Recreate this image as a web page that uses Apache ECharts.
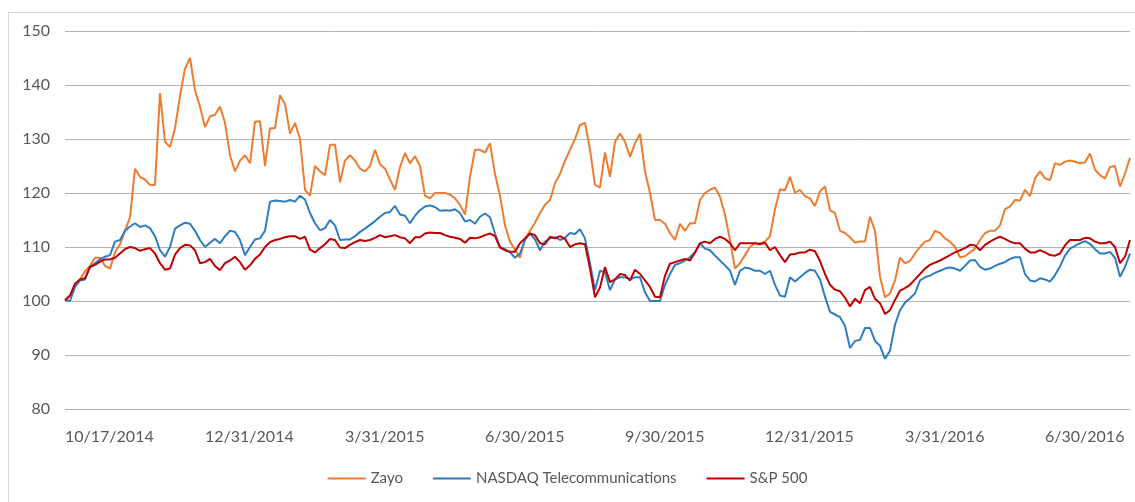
<!DOCTYPE html>
<html>
<head>
<meta charset="utf-8">
<script src="https://cdn.jsdelivr.net/npm/echarts@6/dist/echarts.min.js"></script>
<style>
html, body { margin: 0; padding: 0; background: #fff; }
#frame { position: absolute; left: 8px; top: 12px; width: 1140px; height: 500px; border: 1px solid #d9d9d9; box-sizing: border-box; }
#chart { position: absolute; left: 0; top: 0; width: 1135px; height: 502px; }
</style>
</head>
<body>
<div id="frame"></div>
<div id="chart"></div>
<script>
var xTicks = ['10/17/2014', '12/31/2014', '3/31/2015', '6/30/2015', '9/30/2015', '12/31/2015', '3/31/2016', '6/30/2016'];
var tickStep = 28;

var zayo = [
	100, 101, 103, 104, 105.5, 106.5, 108, 108, 106.5, 106,
	109, 110.5, 113, 115.5, 124.5, 123, 122.5, 121.5, 121.5, 138.5,
	129.5, 128.5, 132, 138, 143, 145, 139, 136, 132.2, 134.2,
	134.5, 136, 133, 127, 124, 126, 127, 125.5, 133.2, 133.3,
	125, 132, 132, 138.1, 136.5, 131, 133, 130, 120.6, 119.5,
	125, 124, 123.3, 128.9, 129, 122, 126, 127, 126, 124.5,
	124, 125, 128, 125.3, 124.5, 122.5, 120.6, 124.8, 127.4, 125.5,
	126.8, 125, 119.5, 119, 120, 120, 120, 119.7, 119, 117.8,
	116, 123, 128, 128, 127.5, 129.2, 123.5, 119.5, 114, 111,
	109.5, 108, 111.5, 113, 114.5, 116.3, 117.8, 118.7, 121.8, 123.5,
	126, 128, 130, 132.6, 133, 128, 121.5, 121, 127.5, 123,
	129.5, 131, 129.5, 126.7, 129.2, 131, 124, 120, 115, 115,
	114.3, 112.6, 111.3, 114.3, 113, 114.4, 114.4, 118.7, 120, 120.6,
	121, 119.3, 116, 111.3, 106, 107, 108.5, 110, 110.7, 110.7,
	111, 112, 117, 120.7, 120.5, 123, 120, 120.6, 119.4, 119,
	117.6, 120.3, 121.2, 116.8, 116.3, 113, 112.6, 111.8, 110.8, 111,
	111, 115.6, 113, 104.5, 100.7, 101.4, 103.8, 108, 107, 107.4,
	108.8, 110, 111, 111.3, 113, 112.6, 111.6, 111, 110, 108.1,
	108.3, 109, 109.7, 111.3, 112.6, 113, 113, 114, 117, 117.5,
	118.7, 118.6, 120.6, 119.4, 122.7, 124, 122.7, 122.4, 125.5, 125.2,
	125.8, 126, 125.8, 125.5, 125.7, 127.3, 124.3, 123.3, 122.7, 124.8,
	125, 121.2, 123.6, 126.5
];

var nasdaq = [
	100.2, 100, 102.6, 103.8, 104, 106.3, 107, 107.7, 108.2, 108.5,
	111, 111.3, 113, 113.8, 114.4, 113.7, 114, 113.5, 112, 109.4,
	108.2, 110, 113.4, 114, 114.5, 114.3, 113, 111.3, 110, 110.8,
	111.5, 110.7, 112, 113, 112.8, 111.3, 108.5, 110, 111.4, 111.6,
	113, 118.4, 118.6, 118.5, 118.4, 118.7, 118.4, 119.5, 118.8, 116.3,
	114.4, 113.1, 113.5, 115, 114, 111.3, 111.4, 111.4, 112, 112.8,
	113.4, 114.1, 114.8, 115.6, 116.3, 116.5, 117.6, 116, 115.8, 114.4,
	115.8, 116.8, 117.5, 117.7, 117.4, 116.7, 116.8, 116.7, 117, 116.3,
	114.7, 115, 114.3, 115.6, 116.2, 115.5, 112.5, 110, 109.6, 109,
	108, 108.8, 111.3, 112.5, 111.4, 109.4, 111, 111.6, 111.8, 111.3,
	111.7, 112.6, 112.4, 113.3, 111.6, 107, 102, 105.6, 105.3, 102,
	104, 104.4, 104.4, 104, 104.4, 104.4, 101.6, 100, 100, 100,
	103, 105, 106.7, 107, 107.5, 108.1, 109, 110.7, 109.7, 109.4,
	108.4, 107.5, 106.6, 105.6, 103, 105.6, 106.2, 106, 105.6, 105.6,
	105, 105.6, 103, 101, 100.8, 104.4, 103.6, 104.4, 105.2, 105.8,
	105.6, 104, 100.8, 98, 97.5, 97, 95.4, 91.3, 92.6, 92.8,
	95, 95, 92.6, 91.7, 89.3, 90.8, 95.6, 98.3, 99.7, 100.5,
	101.4, 103.8, 104.4, 104.7, 105.2, 105.6, 106, 106.2, 106, 105.6,
	106.5, 107.5, 107.6, 106.3, 105.8, 106, 106.5, 106.9, 107.2, 107.8,
	108.1, 108.1, 105, 103.8, 103.6, 104.2, 104, 103.6, 104.8, 106.4,
	108.4, 109.7, 110.2, 110.7, 111.1, 110.6, 109.6, 108.8, 108.8, 109.1,
	108, 104.5, 106.3, 108.8
];

var sp500 = [
	100.2, 101, 103.2, 104, 104.2, 106.3, 106.7, 107.3, 107.7, 107.7,
	108, 108.8, 109.6, 110, 109.8, 109.3, 109.6, 109.8, 108.8, 107,
	105.8, 106, 108.6, 109.8, 110.4, 110.3, 109.4, 107, 107.2, 107.8,
	106.5, 105.7, 107, 107.5, 108.2, 107.2, 105.8, 106.6, 107.8, 108.6,
	110, 110.9, 111.3, 111.5, 111.8, 112, 112, 111.5, 111.9, 109.5,
	109, 109.8, 110.5, 111.5, 111.3, 109.9, 109.8, 110.4, 110.9, 111.3,
	111.1, 111.3, 111.7, 112.2, 111.8, 112, 112.2, 111.8, 111.6, 110.7,
	111.8, 111.8, 112.5, 112.7, 112.6, 112.6, 112.2, 111.9, 111.7, 111.5,
	110.8, 111.7, 111.6, 111.8, 112.2, 112.5, 112, 109.9, 109.4, 109.1,
	109.1, 110.7, 111.6, 112.5, 112.2, 110.7, 110.5, 111.9, 111.6, 112,
	111.5, 110, 110.5, 110.7, 110.5, 106, 100.7, 102.5, 106.3, 103.5,
	104, 105, 104.8, 103.8, 105.8, 105, 103.8, 102.6, 100.8, 100.7,
	104.7, 106.9, 107.2, 107.5, 107.8, 107.5, 109, 110.7, 111, 110.7,
	111.5, 111.9, 111.5, 110.7, 109.4, 110.7, 110.7, 110.7, 110.7, 110.5,
	110.8, 109.4, 110, 108.5, 107.2, 108.6, 108.7, 109, 109, 109.5,
	109.2, 107.4, 105, 103, 102.1, 101.8, 100.6, 99, 100.4, 99.6,
	102, 102.6, 100.4, 99.6, 97.6, 98.3, 100.2, 101.9, 102.4, 103,
	104, 105, 106, 106.7, 107.1, 107.5, 108, 108.5, 109, 109.4,
	109.8, 110.4, 110.3, 109.4, 110.4, 111, 111.5, 111.9, 111.5, 111,
	110.7, 110.7, 109.7, 109, 109, 109.4, 109, 108.5, 108.4, 108.8,
	110.3, 111.3, 111.3, 111.3, 111.7, 111.6, 111, 110.7, 110.7, 111,
	110, 107, 108.2, 111.3
];

// category per point, only every tickStep-th one carries a date label
var categories = [];
for (var i = 0; i < zayo.length; i++) {
	categories.push(i % tickStep === 0 ? (xTicks[i / tickStep] || '') : '');
}

var chart = echarts.init(document.getElementById('chart'));
var option = {
	animation: false,
	grid: {
		left: 65,
		right: 5,
		top: 31,
		bottom: 93
	},
	legend: {
		bottom: 11,
		left: 'center',
		itemWidth: 38,
		itemHeight: 2,
		itemGap: 30,
		icon: 'rect',
		textStyle: {
			fontFamily: 'Lato',
			fontSize: 15,
			color: '#595959'
		},
		data: ['Zayo', 'NASDAQ Telecommunications', 'S&P 500']
	},
	xAxis: {
		type: 'category',
		boundaryGap: false,
		data: categories,
		axisLine: { show: false },
		axisTick: { show: false },
		axisLabel: {
			interval: tickStep - 1,
			align: 'left',
			margin: 20,
			fontFamily: 'Lato',
			fontSize: 16,
			color: '#595959'
		}
	},
	yAxis: {
		type: 'value',
		min: 80,
		max: 150,
		interval: 10,
		axisLine: { show: false },
		axisTick: { show: false },
		axisLabel: {
			margin: 15,
			fontFamily: 'Lato',
			fontSize: 16,
			color: '#595959'
		},
		splitLine: {
			lineStyle: { color: '#b4b4b4', width: 1 }
		}
	},
	series: [{
		name: 'Zayo',
		type: 'line',
		data: zayo,
		showSymbol: false,
		itemStyle: { color: '#ed7d31' },
		lineStyle: { color: '#ed7d31', width: 2 }
	}, {
		name: 'NASDAQ Telecommunications',
		type: 'line',
		data: nasdaq,
		showSymbol: false,
		itemStyle: { color: '#2e7dc0' },
		lineStyle: { color: '#2e7dc0', width: 2 }
	}, {
		name: 'S&P 500',
		type: 'line',
		data: sp500,
		showSymbol: false,
		itemStyle: { color: '#c00000' },
		lineStyle: { color: '#c00000', width: 2 }
	}]
};
chart.setOption(option);
</script>
</body>
</html>
